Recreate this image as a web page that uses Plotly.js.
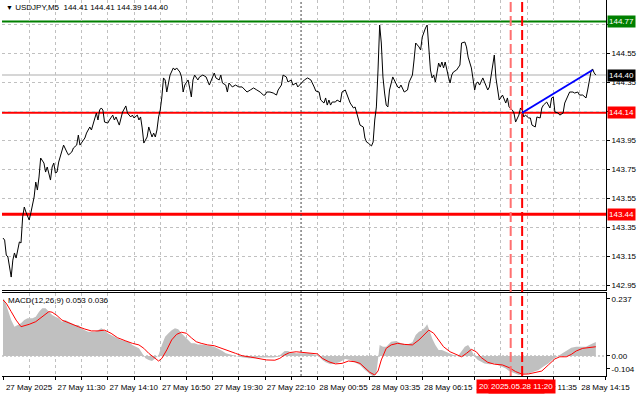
<!DOCTYPE html>
<html>
<head>
<meta charset="utf-8">
<script src="https://cdn.plot.ly/plotly-3.0.1.min.js"></script>
<style>html,body{margin:0;padding:0;background:#fff;}#chart{width:640px;height:401px;}</style>
</head>
<body>
<div id="chart"></div>
<script>
// ---- data (bar index of M5 bars, price) ----
const symbol = 'USDJPY,M5';
const ohlc = [144.41, 144.41, 144.39, 144.40];
const priceIdx = [0,1,2,3,5,6,7,8,10,11,12,13,14,16,17,19,20,21,22,23,25,26,27,29,30,31,32,33,34,36,37,39,40,42,43,45,46,47,49,50,51,53,54,56,57,58,59,60,61,62,64,65,67,68,69,71,72,73,75,76,78,79,80,82,83,84,85,86,88,89,90,91,92,93,94,95,96,97,98,99,100,101,102,104,105,106,108,109,110,111,113,114,115,116,117,119,120,122,124,126,128,129,130,132,133,134,136,137,138,140,142,144,146,148,149,151,153,155,157,159,160,161,163,165,167,168,170,171,173,174,176,177,179,180,182,184,186,188,190,191,193,194,196,197,198,199,200,201,203,204,206,207,209,210,212,214,215,216,218,220,221,222,223,225,226,227,228,229,230,231,232,233,234,235,236,238,239,241,242,243,245,247,248,250,251,252,254,255,256,257,258,259,260,261,262,263,264,266,267,268,269,270,272,273,274,275,277,279,280,282,283,284,286,287,288,289,290,291,293,294,296,297,299,300,301,302,303,305,306,307,308,309,311,312,313,315,316,317,318,319,321,322,323,325,326,328,329,330,332,334,335,336,337,339,340,342,343,345,346,348,349,351,352,354,356,357,358,359,360,361,362];
const priceVal = [143.276,143.262,143.159,143.145,143.007,143.124,143.173,143.138,143.249,143.242,143.421,143.490,143.455,143.400,143.449,143.559,143.662,143.607,143.697,143.828,143.793,143.731,143.766,143.676,143.766,143.793,143.724,143.731,143.800,143.869,143.917,143.869,143.849,143.869,143.897,143.917,143.986,143.917,143.952,143.966,144.000,144.042,144.021,144.090,144.138,144.090,144.159,144.173,144.159,144.076,144.069,144.090,144.124,144.090,144.111,144.055,144.104,144.145,144.187,144.138,144.111,144.124,144.104,144.124,144.090,144.111,144.035,143.931,143.973,144.042,144.007,143.973,144.000,143.973,144.021,144.111,144.159,144.249,144.380,144.366,144.283,144.352,144.400,144.449,144.435,144.449,144.421,144.387,144.283,144.331,144.366,144.311,144.249,144.366,144.400,144.366,144.387,144.400,144.387,144.331,144.380,144.414,144.380,144.366,144.400,144.345,144.331,144.283,144.345,144.318,144.331,144.318,144.318,144.297,144.283,144.297,144.311,144.297,144.283,144.262,144.262,144.283,144.283,144.276,144.262,144.297,144.331,144.400,144.387,144.352,144.366,144.331,144.345,144.318,144.345,144.366,144.380,144.366,144.318,144.290,144.283,144.228,144.207,144.242,144.193,144.228,144.193,144.214,144.214,144.228,144.214,144.283,144.297,144.262,144.207,144.173,144.180,144.138,144.055,144.042,143.966,143.938,143.931,143.911,143.938,144.090,144.180,144.435,144.745,144.621,144.387,144.276,144.193,144.180,144.297,144.387,144.366,144.318,144.311,144.331,144.283,144.297,144.352,144.400,144.504,144.621,144.594,144.573,144.662,144.697,144.725,144.745,144.594,144.435,144.380,144.400,144.352,144.483,144.455,144.490,144.449,144.490,144.387,144.345,144.400,144.421,144.435,144.469,144.621,144.628,144.594,144.524,144.449,144.387,144.297,144.345,144.352,144.331,144.380,144.352,144.297,144.318,144.449,144.538,144.380,144.283,144.228,144.262,144.228,144.207,144.242,144.180,144.159,144.138,144.076,144.124,144.173,144.159,144.111,144.124,144.104,144.104,144.055,144.042,144.111,144.104,144.173,144.193,144.214,144.173,144.242,144.249,144.145,144.138,144.124,144.138,144.207,144.262,144.283,144.283,144.276,144.283,144.262,144.262,144.242,144.297,144.352,144.421,144.442,144.414,144.400];

// MACD(12,26,9): main (histogram) and signal
const macdLegend = [0.053, 0.036];
const histIdx = [0,1,3,5,7,9,11,13,15,18,20,22,24,26,28,30,32,34,36,38,40,42,44,46,48,50,52,54,56,58,60,62,64,66,68,70,72,75,77,79,81,83,85,87,89,91,93,95,97,99,101,103,105,107,109,111,113,115,117,119,121,123,125,127,129,131,134,136,138,141,144,147,150,153,156,159,162,165,168,170,172,174,176,179,182,185,187,191,193,195,197,200,203,206,209,212,215,218,221,224,226,228,229,230,232,234,237,240,243,247,250,252,254,256,258,259,261,262,264,266,268,271,275,278,280,282,284,286,288,290,292,294,297,298,300,302,305,307,309,311,313,315,317,319,321,324,327,330,333,336,339,342,345,347,350,353,356,358,360,362];
const histVal = [0.218,0.212,0.174,0.136,0.111,0.117,0.124,0.136,0.143,0.143,0.149,0.168,0.181,0.181,0.168,0.155,0.149,0.143,0.130,0.136,0.130,0.124,0.117,0.117,0.105,0.098,0.092,0.092,0.092,0.098,0.105,0.098,0.086,0.080,0.073,0.067,0.061,0.057,0.052,0.042,0.035,0.029,0.010,-0.009,-0.015,-0.019,-0.009,0.004,0.042,0.073,0.086,0.098,0.105,0.101,0.086,0.073,0.061,0.048,0.048,0.044,0.044,0.042,0.042,0.038,0.035,0.029,0.019,0.010,0.006,0.001,-0.003,-0.006,-0.009,-0.009,-0.006,-0.006,-0.006,-0.006,-0.003,0.010,0.019,0.019,0.013,0.010,0.010,0.010,0.010,0.004,-0.003,-0.015,-0.024,-0.031,-0.028,-0.022,-0.011,-0.015,-0.024,-0.034,-0.053,-0.069,-0.078,-0.066,-0.003,0.042,0.035,0.035,0.054,0.057,0.048,0.044,0.052,0.080,0.092,0.098,0.111,0.120,0.086,0.067,0.042,0.023,0.023,0.016,0.004,0.001,0.016,0.035,0.042,0.023,-0.003,-0.015,-0.022,-0.028,-0.031,-0.031,-0.028,-0.034,-0.040,-0.047,-0.057,-0.063,-0.069,-0.072,-0.069,-0.066,-0.066,-0.059,-0.053,-0.040,-0.028,-0.011,0.001,0.010,0.023,0.031,0.035,0.035,0.035,0.042,0.048,0.053];
const sigIdx = [0,2,5,8,11,13,16,20,23,26,28,30,33,36,39,42,46,50,54,58,62,66,70,75,79,83,86,89,92,95,97,100,103,106,109,112,115,118,121,125,129,134,138,142,146,151,156,161,166,169,172,175,179,183,187,192,195,199,203,207,211,215,218,221,224,227,229,231,234,237,241,245,250,254,258,260,263,266,269,273,277,280,283,286,289,292,296,300,305,309,313,317,321,325,329,333,337,340,344,347,350,354,358,362];
const sigVal = [0.212,0.200,0.168,0.136,0.111,0.114,0.120,0.130,0.143,0.158,0.168,0.166,0.153,0.136,0.128,0.120,0.111,0.102,0.095,0.095,0.098,0.086,0.069,0.057,0.048,0.042,0.029,0.010,-0.006,-0.019,-0.009,0.023,0.061,0.082,0.090,0.086,0.069,0.054,0.048,0.042,0.039,0.029,0.019,0.010,0.001,-0.004,-0.009,-0.015,-0.016,-0.009,0.004,0.013,0.016,0.013,0.010,0.008,-0.009,-0.022,-0.030,-0.028,-0.019,-0.022,-0.028,-0.047,-0.062,-0.072,-0.057,-0.015,0.029,0.042,0.048,0.044,0.042,0.061,0.086,0.098,0.086,0.061,0.035,0.016,0.004,-0.003,0.010,0.025,0.016,-0.006,-0.024,-0.031,-0.034,-0.044,-0.059,-0.069,-0.068,-0.063,-0.057,-0.034,-0.011,-0.003,-0.003,0.006,0.019,0.029,0.031,0.035];

// chart objects
const levelVals = [144.77, 144.14, 143.44];
const levelColors = ['#008000', '#ff0000', '#ff0000'];
const levelWidths = [2, 2, 3];
const bidPrice = 144.40;
const trendIdx = [317, 360];
const trendVal = [144.14, 144.435];
const vlineIdx = [310, 317];
const vlineText = ['2025.05.28 10:50', '2025.05.28 11:20'];
const separatorIdx = 182;

// axes
const priceTicks = [142.95,143.15,143.35,143.55,143.75,143.95,144.15,144.35,144.55,144.75];
const hiddenPriceTicks = [144.15, 144.75]; // covered by the level boxes in the reference
const timeLabels = ['27 May 2025','27 May 11:30','27 May 14:10','27 May 16:50','27 May 19:30','27 May 22:10','28 May 00:55','28 May 03:35','28 May 06:15','28 May 08:55','28 May 11:35','28 May 14:15'];
const macdTickVals = [0.216, 0, -0.049];
const macdTickText = ['0.237', '0.00', '-0.104'];

const barsPerLabel = 32, barsPerGrid = 16;
const xRange = [-0.61, 368.2];
const gridVals = [], gridText = [];
for (let v = 0; v <= xRange[1]; v += barsPerGrid) {
  gridVals.push(v);
  gridText.push(v % barsPerLabel === 0 ? (timeLabels[v / barsPerLabel] || '') : '');
}

const FONT = 'Liberation Sans, Arial, sans-serif';
const gridStyle = {showgrid: true, gridcolor: '#c0c0c0', griddash: '3px,3px', gridwidth: 1};

const traces = [
  {x: histIdx, y: histVal, xaxis: 'x2', yaxis: 'y2', type: 'scatter', mode: 'lines',
   fill: 'tozeroy', fillcolor: '#c0c0c0', line: {width: 0, color: '#c0c0c0'}},
  {x: sigIdx, y: sigVal, xaxis: 'x2', yaxis: 'y2', type: 'scatter', mode: 'lines',
   line: {width: 1, color: '#ff0000'}},
  {x: priceIdx, y: priceVal, xaxis: 'x', yaxis: 'y', type: 'scatter', mode: 'lines',
   line: {width: 1, color: '#000000'}},
  {x: trendIdx, y: trendVal, xaxis: 'x', yaxis: 'y', type: 'scatter', mode: 'lines',
   line: {width: 2, color: '#0000ff'}}
];

const shapes = [];
shapes.push({type: 'line', xref: 'paper', x0: 0, x1: 1, yref: 'y', y0: bidPrice, y1: bidPrice,
  line: {color: '#c8c8c8', width: 1.5}, layer: 'below'});
levelVals.forEach((v, i) => shapes.push({type: 'line', xref: 'paper', x0: 0, x1: 1, yref: 'y', y0: v, y1: v,
  line: {color: levelColors[i], width: levelWidths[i]}, layer: 'below'}));
shapes.push({type: 'line', xref: 'paper', x0: 0, x1: 1, yref: 'y2', y0: 0, y1: 0,
  line: {color: '#a0a0a0', width: 1, dash: '2px,2px'}, layer: 'below'});
shapes.push({type: 'line', xref: 'x', x0: separatorIdx, x1: separatorIdx, yref: 'paper', y0: 0, y1: 1,
  line: {color: '#404040', width: 1, dash: '2px,2px'}, layer: 'below'});
shapes.push({type: 'line', xref: 'x', x0: vlineIdx[0], x1: vlineIdx[0], yref: 'paper', y0: 0, y1: 1,
  line: {color: '#ff7070', width: 2, dash: '10px,4px'}});
shapes.push({type: 'line', xref: 'x', x0: vlineIdx[1], x1: vlineIdx[1], yref: 'paper', y0: 0, y1: 1,
  line: {color: '#ff0000', width: 2, dash: '10px,4px'}});

const annotations = [];
annotations.push({xref: 'paper', x: 0, xanchor: 'left', xshift: 2, yref: 'paper', y: 1, yanchor: 'top', yshift: -1,
  text: '<span style="font-size:7px">▼</span> ' + symbol + '  ' + ohlc.map(v => v.toFixed(2)).join(' '),
  showarrow: false, font: {family: FONT, size: 8, color: '#000'}});
annotations.push({xref: 'paper', x: 0, xanchor: 'left', xshift: 4, yref: 'y2 domain', y: 1, yanchor: 'top', yshift: -1,
  text: 'MACD(12,26,9) ' + macdLegend.map(v => v.toFixed(3)).join(' '),
  showarrow: false, font: {family: FONT, size: 8, color: '#000'}});
const boxLabels = [
  {v: levelVals[0], bg: levelColors[0]},
  {v: bidPrice, bg: '#000000'},
  {v: levelVals[1], bg: levelColors[1]},
  {v: levelVals[2], bg: levelColors[2]}
];
boxLabels.forEach(b => annotations.push({xref: 'paper', x: 1, xanchor: 'left', xshift: 1, yref: 'y', y: b.v, yanchor: 'middle',
  text: b.v.toFixed(2), showarrow: false, bgcolor: b.bg, borderpad: 1,
  font: {family: FONT, size: 8, color: '#ffffff'}}));
vlineIdx.forEach((xi, i) => annotations.push({xref: 'x', x: xi, xanchor: 'center', yref: 'paper', y: -0.029, yanchor: 'middle',
  text: vlineText[i], showarrow: false, bgcolor: '#ff0000', borderpad: 2,
  font: {family: FONT, size: 8, color: '#ffffff'}}));

const layout = {
  width: 640, height: 401,
  margin: {l: 2, r: 34, t: 0, b: 25, pad: 0},
  paper_bgcolor: '#ffffff', plot_bgcolor: '#ffffff',
  showlegend: false,
  font: {family: FONT, size: 8, color: '#000'},
  xaxis: Object.assign({anchor: 'y', domain: [0, 1], range: xRange, tickmode: 'array', tickvals: gridVals,
    showticklabels: false, ticks: '', showline: true, linecolor: '#000', linewidth: 1, zeroline: false}, gridStyle),
  yaxis: Object.assign({domain: [0.2287, 1], side: 'right', range: [142.9176, 144.9176], tickmode: 'array',
    tickvals: priceTicks, ticktext: priceTicks.map(v => hiddenPriceTicks.includes(v) ? '' : v.toFixed(2)),
    ticks: 'outside', ticklen: 3, tickcolor: '#000',
    showline: true, linecolor: '#000', linewidth: 1, zeroline: false,
    tickfont: {family: FONT, size: 8, color: '#000'}}, gridStyle),
  xaxis2: Object.assign({anchor: 'y2', domain: [0, 1], range: xRange, tickmode: 'array', tickvals: gridVals, ticktext: gridText,
    ticks: 'outside', ticklen: 3, tickcolor: '#000', ticklabelshift: 26, showline: true, mirror: true,
    linecolor: '#000', linewidth: 1, zeroline: false,
    tickfont: {family: FONT, size: 8, color: '#000'}}, gridStyle),
  yaxis2: {domain: [0, 0.2207], side: 'right', range: [-0.0758, 0.2386], tickmode: 'array',
    tickvals: macdTickVals, ticktext: macdTickText, ticks: 'outside', ticklen: 3, tickcolor: '#000',
    showgrid: false, zeroline: false, showline: true, linecolor: '#000', linewidth: 1,
    tickfont: {family: FONT, size: 8, color: '#000'}},
  shapes: shapes,
  annotations: annotations
};

Plotly.newPlot('chart', traces, layout, {staticPlot: true, displayModeBar: false});
</script>
</body>
</html>
